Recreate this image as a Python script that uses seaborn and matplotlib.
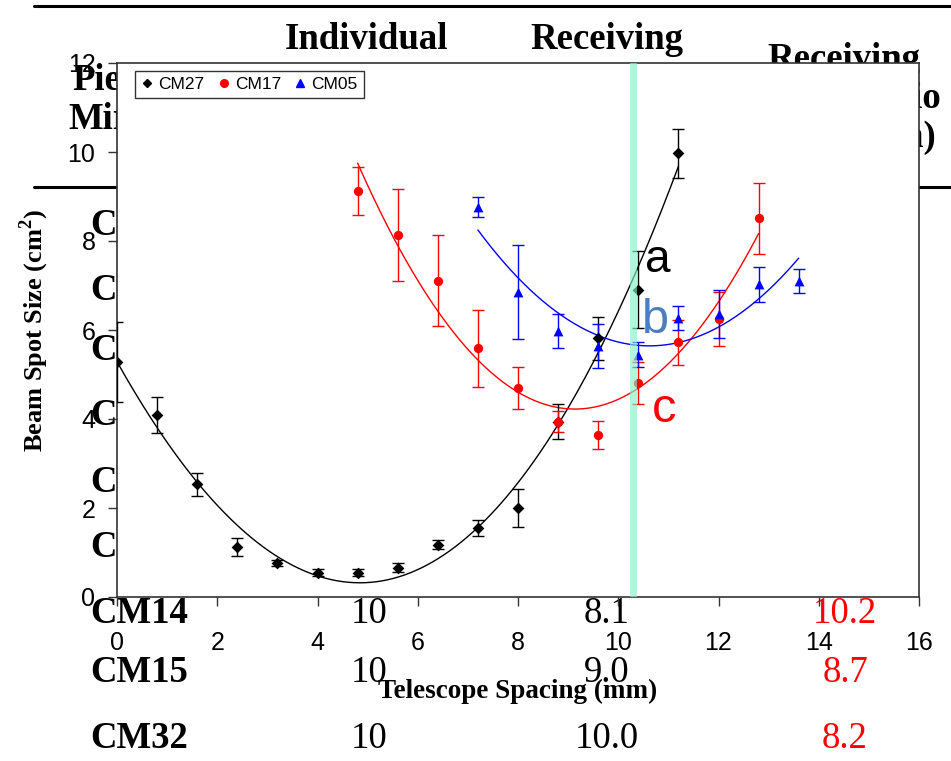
import numpy as np
import pandas as pd
import matplotlib
matplotlib.use("Agg")
import matplotlib.pyplot as plt
from matplotlib.lines import Line2D
import seaborn as sns

# ---- measured beam spot sizes (cm^2) vs telescope spacing (mm) ----
spacing_cm27 = [0.0, 0.8, 1.6, 2.4, 3.2, 4.0, 4.8, 5.6, 6.4, 7.2, 8.0, 8.8, 9.6, 10.4, 11.2]
spot_cm27 = [5.28, 4.09, 2.53, 1.12, 0.76, 0.55, 0.55, 0.66, 1.17, 1.55, 2.00, 3.94, 5.81, 6.91, 9.97]
err_cm27 = [0.90, 0.40, 0.25, 0.20, 0.07, 0.07, 0.07, 0.10, 0.10, 0.17, 0.42, 0.39, 0.49, 0.86, 0.55]

spacing_cm17 = [4.8, 5.6, 6.4, 7.2, 8.0, 8.8, 9.6, 10.4, 11.2, 12.0, 12.8]
spot_cm17 = [9.13, 8.13, 7.11, 5.59, 4.69, 3.94, 3.64, 4.80, 5.72, 6.25, 8.51]
err_cm17 = [0.54, 1.03, 1.03, 0.87, 0.47, 0.23, 0.31, 0.47, 0.50, 0.60, 0.80]

spacing_cm05 = [7.2, 8.0, 8.8, 9.6, 10.4, 11.2, 12.0, 12.8, 13.6]
spot_cm05 = [8.76, 6.86, 5.98, 5.64, 5.44, 6.26, 6.36, 7.03, 7.10]
err_cm05 = [0.22, 1.06, 0.38, 0.50, 0.28, 0.27, 0.53, 0.39, 0.27]

series_names = ["CM27", "CM17", "CM05"]
series_colors = ["black", "red", "blue"]
series_markers = ["D", "o", "^"]
fit_degree = [3, 2, 2]

# receiving position marker band (mm)
band_lo, band_hi = 10.24, 10.38

# curve tags
tag_text = ["a", "b", "c"]
tag_x = [10.53, 10.47, 10.67]
tag_y = [7.30, 5.93, 3.93]
tag_colors = ["black", "#4a7ebf", "red"]
tag_sizes = [33, 35, 35]

# ---- table behind the plot ----
header_col2 = "Individual"
header_col3 = "Receiving"
header_col4 = ["Receiving", "Ratio", "(mm)"]
header_col1 = ["Piece", "Mirror"]
row_labels = ["C", "C", "C", "C", "C", "C", "CM14", "CM15", "CM32"]
individual_vals = ["10", "10", "10"]
receiving_vals = ["8.1", "9.0", "10.0"]
ratio_vals = ["10.2", "8.7", "8.2"]

W, H = 951, 761
sns.set_style("ticks")
plt.rcParams["font.family"] = ["Liberation Sans", "DejaVu Sans"]
plt.rcParams["text.color"] = "black"
plt.rcParams["axes.labelcolor"] = "black"
plt.rcParams["xtick.color"] = "black"
plt.rcParams["ytick.color"] = "black"
plt.rcParams["mathtext.fontset"] = "custom"
plt.rcParams["mathtext.rm"] = "Liberation Serif"
plt.rcParams["mathtext.bf"] = "Liberation Serif:bold"

fig = plt.figure(figsize=(W / 100, H / 100), dpi=100)
fig.patch.set_facecolor("white")


def fx(px):
    return px / W


def fy(py):
    return 1 - py / H


serif = ["Liberation Serif", "DejaVu Serif"]
TS = 26.5


def table_text(px, py, s, bold=True, ha="left", color="black"):
    fig.text(fx(px), fy(py), s, fontsize=TS, fontweight="bold" if bold else "normal",
             family=serif, ha=ha, va="baseline", color=color, zorder=-1)


# table rules
for yy in (6, 187):
    fig.add_artist(Line2D([fx(34), fx(951)], [fy(yy), fy(yy)], color="black",
                          lw=2.2, zorder=-2, transform=fig.transFigure))

table_text(367, 49, header_col2, ha="center")
table_text(607, 49, header_col3, ha="center")
table_text(844, 69, header_col4[0], ha="center")
table_text(941, 108, header_col4[1], ha="right")
table_text(936, 147, header_col4[2], ha="right")
table_text(72, 90, header_col1[0])
table_text(68, 129, header_col1[1])

row_base = [235, 300, 360, 425, 492, 557, 623, 682, 748]
for lab, yb in zip(row_labels, row_base):
    table_text(90, yb, lab)
for i, yb in enumerate(row_base[-3:]):
    table_text(369, yb, individual_vals[i], bold=False, ha="center")
    table_text(607, yb, receiving_vals[i], bold=False, ha="center")
    table_text(845, yb, ratio_vals[i], bold=False, ha="center", color="red")

# ---- the plot ----
ax = fig.add_axes([117 / W, 1 - 597 / H, 802 / W, 534 / H])
ax.set_facecolor("white")

data = [
    (spacing_cm27, spot_cm27, err_cm27),
    (spacing_cm17, spot_cm17, err_cm17),
    (spacing_cm05, spot_cm05, err_cm05),
]
msizes = [36, 45, 50]
for (xs, ys, es), name, col, mk, ms, deg in zip(data, series_names, series_colors,
                                                series_markers, msizes, fit_degree):
    xs = np.asarray(xs)
    ys = np.asarray(ys)
    coef = np.polyfit(xs, ys, deg)
    grid = np.linspace(xs.min(), xs.max(), 200)
    fit = pd.DataFrame({"x": grid, "y": np.polyval(coef, grid)})
    sns.lineplot(data=fit, x="x", y="y", color=col, lw=1.0, ax=ax, zorder=2)
    ax.errorbar(xs, ys, yerr=es, fmt="none", ecolor=col, elinewidth=1.0,
                capsize=4.5, capthick=1.0, zorder=3)
    pts = pd.DataFrame({"x": xs, "y": ys})
    sns.scatterplot(data=pts, x="x", y="y", color=col, marker=mk, s=ms,
                    edgecolor=col, linewidth=0, ax=ax, zorder=4)

ax.axvspan(band_lo, band_hi, color="#8eeecb", alpha=0.65, lw=0, zorder=5)

for t, x, y, c, s in zip(tag_text, tag_x, tag_y, tag_colors, tag_sizes):
    ax.text(x, y, t, color=c, fontsize=s, ha="left", va="baseline", zorder=6)

ax.set_xlim(0, 16)
ax.set_ylim(0, 12)
ax.set_xticks(range(0, 17, 2))
ax.set_yticks(range(0, 13, 2))
for sp in ax.spines.values():
    sp.set_visible(True)
    sp.set_color("#333333")
    sp.set_linewidth(1.2)
ax.tick_params(axis="both", direction="out", length=6.5, width=1.0, color="#333333",
               labelsize=18, labelcolor="black")
ax.tick_params(axis="x", pad=18)
ax.tick_params(axis="y", pad=9)

ax.set_xlabel("Telescope Spacing (mm)", fontsize=19.5, fontweight="bold", family=serif,
              labelpad=17, color="black")
ax.set_ylabel(r"Beam Spot Size (cm$^{\mathbf{2}}$)", fontsize=19, fontweight="bold",
              family=serif, labelpad=12, color="black")

handles = [Line2D([], [], ls="none", marker=m, color=c, markersize=ms, label=n)
           for n, c, m, ms in zip(series_names, series_colors, series_markers, [4.5, 5.5, 6])]
leg = ax.legend(handles=handles, loc="upper left", bbox_to_anchor=(0.0224, 0.985),
                borderaxespad=0, ncol=3, fontsize=12.5, frameon=True, fancybox=False,
                edgecolor="black", handlelength=0.7, handletextpad=0.3,
                columnspacing=0.75, borderpad=0.35)
leg.get_frame().set_linewidth(1.0)

fig.savefig("out.png", dpi=100, facecolor="white")
